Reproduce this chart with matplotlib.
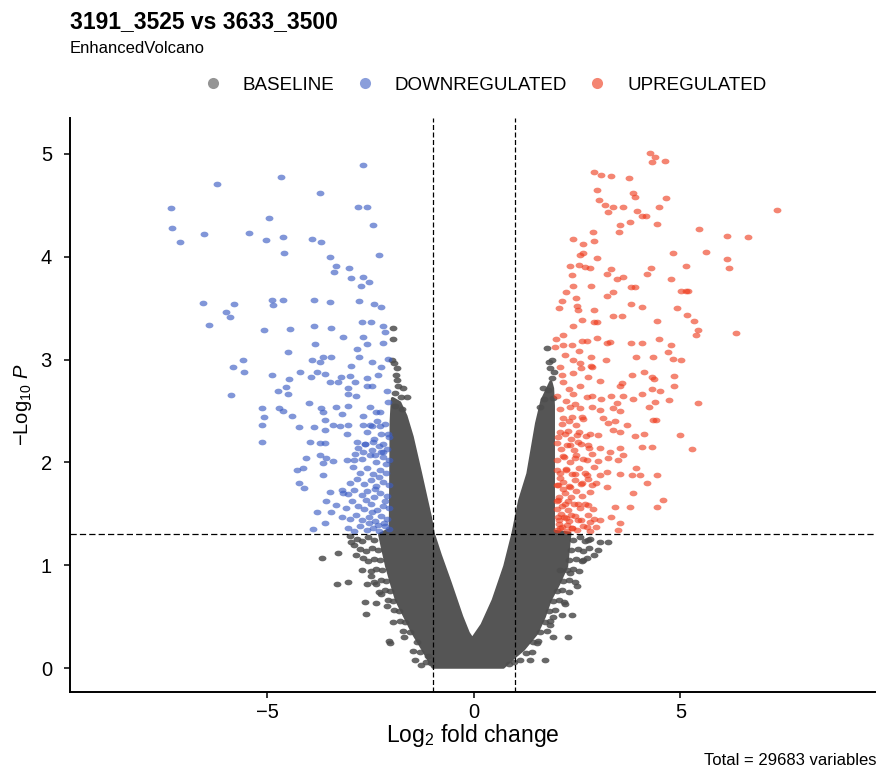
import numpy as np
import matplotlib
matplotlib.use("Agg")
import matplotlib.pyplot as plt
from matplotlib.path import Path
from matplotlib.lines import Line2D

plt.rcParams['font.family'] = ['Liberation Sans', 'DejaVu Sans']
plt.rcParams['mathtext.fontset'] = 'custom'
plt.rcParams['mathtext.rm'] = 'Liberation Sans'
plt.rcParams['mathtext.it'] = 'Liberation Sans:italic'

# ---------------- data ----------------
title = "3191_3525 vs 3633_3500"
subtitle = "EnhancedVolcano"
caption = "Total = 29683 variables"
categories = ["BASELINE", "DOWNREGULATED", "UPREGULATED"]
fc_cutoff = 1.0
p_cutoff = 1.3
x_ticks = [-5, 0, 5]
y_ticks = [0, 1, 2, 3, 4, 5]

# dense baseline cloud envelope (log2FC, -log10 P)
base_env_x = [-1.97, -2.0, -2.02, -2.28, -2.2, -2.11, -1.99, -1.87, -1.67, -1.47, -1.23, -0.99,
              0.71, 0.95, 1.19, 1.52, 1.70, 1.84, 2.05, 2.24, 2.32, 1.92, 1.92, 1.9, 1.86,
              1.65, 1.52, 1.31, 1.11, 1.03, 0.95, 0.75, 0.47, 0.2, -0.04, -0.14, -0.3, -0.58, -0.82,
              -0.99, -1.06, -1.15, -1.3, -1.5, -1.65, -1.8]
base_env_y = [2.62, 2.4, 1.35, 1.3, 1.15, 0.99, 0.82, 0.66, 0.5, 0.34, 0.18, 0.01,
              0.01, 0.1, 0.18, 0.34, 0.5, 0.66, 0.82, 0.99, 1.31, 1.33, 2.55, 2.72, 2.78,
              2.6, 2.38, 1.89, 1.63, 1.47, 1.31, 0.99, 0.66, 0.42, 0.28, 0.34, 0.5, 0.83, 1.1,
              1.31, 1.47, 1.63, 1.9, 2.25, 2.45, 2.58]

# scattered baseline points
base_x = [-3.69, -3.28, -3.32, -3.04, -2.60, -2.37, -2.64, -2.36, -2.61, -2.05, -1.47, -1.31, -1.15, -3.0, -2.9,
          -2.85, -2.7, -2.5, -2.25, -2.1, -1.95, -1.7, -2.03, -1.43, -1.28,
          -2.42, -2.57, -2.71, -2.83, -2.98, -2.33, -2.47, -2.62, -2.77, -2.27, -2.41, -2.56, -2.69,
          -2.22, -2.36, -2.49, -2.12, -2.26, -2.41, -2.03, -2.16, -2.31, -1.96, -2.09, -1.82, -1.94,
          -1.66, -1.79, -1.56, -1.71, -1.39, -1.12, -1.05,
          2.81, 3.05, 3.25, 3.01, 2.08, 2.32, 2.65, 1.92, 2.12, 2.37, 1.92, 2.28, 1.52, 1.11, 1.36, 1.72, 2.9,
          2.5, 2.2, 1.85, 2.75,
          2.41, 2.56, 2.69, 2.36, 2.51, 2.64, 2.79, 2.31, 2.46, 2.61, 2.74, 2.26, 2.41, 2.54, 2.16, 2.31,
          2.44, 2.02, 2.14, 2.29, 1.91, 2.06, 2.19, 1.81, 1.96, 1.71, 1.84, 1.61, 1.76, 1.42, 1.56, 1.26,
          1.41, 0.86, 0.98,
          -1.96, -1.87, -1.89, -1.83, -1.71, -1.63, -1.77, -1.92, -1.75, -1.98, -1.9, -1.97, -1.86, -1.94,
          1.76, 1.84, 1.88, 1.68, 1.92, 1.60, 1.8, 1.9, 1.93, 1.7, 1.82]
base_y = [1.07, 1.12, 0.82, 0.84, 0.82, 0.82, 0.64, 0.63, 0.53, 0.26, 0.17, 0.16, 0.06, 1.28, 1.2,
          1.1, 0.95, 0.9, 0.72, 0.6, 0.45, 0.3, 0.24, 0.08, 0.03,
          1.25, 1.27, 1.24, 1.26, 1.23, 1.15, 1.17, 1.14, 1.16, 1.05, 1.06, 1.04, 1.07,
          0.95, 0.96, 0.94, 0.85, 0.86, 0.84, 0.75, 0.76, 0.74, 0.65, 0.66, 0.55, 0.56,
          0.45, 0.46, 0.35, 0.36, 0.25, 0.12, 0.05,
          1.26, 1.23, 1.23, 1.15, 0.95, 0.92, 1.05, 0.5, 0.52, 0.52, 0.30, 0.30, 0.24, 0.08, 0.08, 0.08, 1.1,
          0.8, 0.62, 0.42, 1.25,
          1.25, 1.27, 1.24, 1.15, 1.16, 1.14, 1.17, 1.05, 1.06, 1.04, 1.07, 0.95, 0.96, 0.94, 0.85, 0.86,
          0.84, 0.75, 0.76, 0.74, 0.65, 0.66, 0.64, 0.55, 0.56, 0.45, 0.46, 0.35, 0.36, 0.25, 0.26, 0.15,
          0.16, 0.04, 0.06,
          3.31, 2.92, 2.85, 2.74, 2.72, 2.64, 2.64, 2.55, 2.52, 3.0, 2.68, 3.2, 2.8, 2.97,
          3.11, 2.92, 2.82, 2.72, 2.63, 2.54, 2.7, 3.0, 2.88, 2.62, 2.98]

down_x = [-2.69, -4.67, -6.21, -3.73, -7.34, -2.80, -2.60, -4.96, -2.44, -7.30, -6.54, -5.44, -7.12, -5.04, -4.62,
          -3.91, -3.70, -4.60, -3.49, -2.31, -3.35, -3.02, -3.38, -2.97, -2.68, -2.54, -2.74, -6.55, -5.80, -6.00,
          -5.91, -6.41, -4.89, -4.63, -4.86, -3.87, -3.49, -2.79, -2.42, -2.26, -5.08, -4.45, -3.87, -3.46, -2.71,
          -2.49, -2.20, -2.15, -3.16, -2.68, -2.84, -2.78, -2.60, -2.20, -3.86, -4.50, -5.59, -5.83, -5.57, -5.87,
          -3.91, -3.73, -3.65, -3.45, -2.98, -2.48, -2.26, -2.09, -4.89, -4.47, -4.21, -3.95, -3.81, -3.61, -3.49,
          -3.29, -3.22, -3.00, -2.88, -2.58, -2.33, -2.58, -2.48, -3.06, -3.04, -2.86, -4.55, -4.50, -4.75, -2.10,
          -2.07, -5.14, -5.08, -5.12, -5.14, -4.71, -4.62, -4.41, -3.99, -3.70, -3.65, -3.34, -3.20, -3.06, -4.23,
          -3.87, -3.61, -3.41, -3.61, -3.25, -3.08, -3.04, -2.68, -2.48, -2.28, -2.52, -2.36, -2.28, -2.68, -3.97,
          -3.73, -3.61, -2.84, -2.64, -2.44, -2.20, -2.07, -3.73, -3.65, -3.57, -4.07, -4.29, -4.13, -3.42, -3.08,
          -2.91, -2.68, -2.40, -2.20, -3.65, -4.23, -4.12, -3.49, -3.20, -3.16, -3.57, -3.35, -3.81, -3.45, -3.61,
          -3.89,
          -2.05, -2.15, -2.3, -2.45, -2.6, -2.75, -2.9, -3.05, -2.1, -2.25, -2.4, -2.55, -2.7, -2.85, -3.0, -3.2,
          -2.05, -2.2, -2.35, -2.5, -2.65, -2.8, -2.95, -3.1, -2.1, -2.28, -2.42, -2.58, -2.72, -2.9, -3.05,
          -2.05, -2.2, -2.36, -2.5, -2.66, -2.82, -3.0, -2.12, -2.27, -2.44, -2.6, -2.75, -2.92,
          -2.05, -2.2, -2.38, -2.52, -2.7, -2.88, -2.1, -2.3, -2.46, -2.63, -2.8, -2.06, -2.25, -2.42, -2.58,
          -2.15, -2.35, -2.52, -2.18, -2.33, -2.48, -2.62, -2.15, -2.3, -2.12, -2.55, -2.4, -2.25]
down_y = [4.89, 4.78, 4.71, 4.62, 4.47, 4.48, 4.48, 4.38, 4.31, 4.28, 4.22, 4.23, 4.14, 4.16, 4.19,
          4.17, 4.14, 4.04, 4.00, 4.02, 3.91, 3.89, 3.85, 3.79, 3.80, 3.75, 3.72, 3.55, 3.54, 3.46,
          3.41, 3.34, 3.58, 3.58, 3.53, 3.58, 3.56, 3.57, 3.54, 3.51, 3.29, 3.30, 3.33, 3.31, 3.37,
          3.37, 3.33, 3.27, 3.22, 3.22, 3.10, 3.03, 3.15, 3.16, 3.15, 3.07, 3.00, 2.93, 2.88, 2.66,
          3.00, 2.98, 3.03, 3.03, 2.94, 2.98, 2.93, 3.01, 2.85, 2.81, 2.88, 2.83, 2.88, 2.86, 2.78,
          2.78, 2.83, 2.84, 2.78, 2.82, 2.85, 2.74, 2.74, 2.72, 2.67, 2.65, 2.73, 2.67, 2.69, 2.69,
          2.59, 2.53, 2.44, 2.36, 2.20, 2.53, 2.50, 2.45, 2.58, 2.53, 2.49, 2.54, 2.47, 2.55, 2.34,
          2.34, 2.41, 2.36, 2.32, 2.35, 2.28, 2.36, 2.36, 2.35, 2.35, 2.54, 2.49, 2.49, 2.45, 2.20,
          2.19, 2.19, 2.20, 2.18, 2.20, 2.18, 2.28, 2.07, 1.99, 2.04, 2.04, 1.93, 1.95, 2.01, 2.02,
          2.02, 2.10, 2.07, 2.10, 1.88, 1.80, 1.75, 1.71, 1.73, 1.70, 1.62, 1.59, 1.52, 1.52, 1.41,
          1.35,
          1.35, 1.38, 1.33, 1.36, 1.34, 1.38, 1.33, 1.36, 1.45, 1.48, 1.43, 1.47, 1.44, 1.49, 1.45, 1.47,
          1.56, 1.58, 1.54, 1.6, 1.55, 1.58, 1.62, 1.56, 1.67, 1.7, 1.66, 1.72, 1.68, 1.73, 1.69,
          1.78, 1.81, 1.77, 1.83, 1.79, 1.84, 1.8, 1.9, 1.93, 1.89, 1.95, 1.9, 1.96,
          2.02, 2.05, 2.0, 2.07, 2.03, 2.08, 2.13, 2.16, 2.12, 2.18, 2.14, 2.25, 2.28, 2.23, 2.3,
          2.37, 2.4, 2.36, 1.41, 1.39, 1.52, 1.63, 1.62, 1.86, 1.98, 1.41, 1.74, 2.1]

up_x = [4.26, 4.38, 4.30, 4.62, 2.91, 3.08, 3.33, 3.75, 2.97, 3.03, 3.86, 3.90, 4.65, 3.17, 3.37, 3.62, 3.25,
        3.94, 4.06, 4.16, 4.48, 7.33, 3.79, 3.54, 3.52, 4.42, 2.89, 2.91, 2.65, 2.40, 5.46, 6.12, 6.63, 4.81,
        5.61, 6.12, 6.17, 2.65, 2.57, 2.99, 2.32, 2.55, 2.69, 2.81, 3.31, 3.23, 3.47, 3.62, 4.29, 4.18, 5.13,
        4.77, 2.38, 2.40, 2.83, 3.80, 3.90, 3.36, 3.23, 5.01, 5.13, 5.19, 2.24, 2.14, 2.47, 2.49, 2.53, 2.07,
        2.91, 2.91, 2.97, 3.36, 3.58, 3.80, 4.06, 4.92, 5.15, 5.33, 5.42, 5.37, 4.44, 6.35, 2.61, 2.39, 2.16,
        1.98, 1.96, 2.15, 2.37, 2.62, 2.73, 2.97, 3.23, 3.29, 3.80, 4.06, 4.49, 4.77, 3.92, 4.34, 4.70, 4.83,
        5.01, 3.20, 2.83, 2.55, 2.20, 2.40, 2.57, 2.83, 2.08, 2.58, 2.87, 2.12, 2.40, 2.77, 3.05, 3.54, 3.58,
        3.83, 4.12, 4.30, 4.37, 4.85, 4.85, 2.16, 2.31, 2.40, 2.57, 2.02, 2.24, 2.45, 2.73, 2.85, 3.07, 3.31,
        3.47, 3.60, 3.86, 4.06, 4.30, 4.38, 4.50, 4.73, 5.42, 4.24, 3.37, 3.54, 3.05, 2.85, 2.57, 2.32, 2.08,
        2.16, 2.37, 2.61, 3.13, 3.25, 3.41, 3.70, 4.34, 4.41, 2.08, 2.28, 2.49, 2.81, 3.01, 3.37, 3.54, 3.90,
        4.12, 4.99, 2.00, 2.32, 2.53, 2.77, 3.05, 3.29, 3.54, 4.06, 4.30, 5.27, 2.16, 2.45, 2.73, 3.01, 3.25,
        3.49, 3.62, 3.92, 2.00, 2.24, 2.45, 2.73, 3.05, 3.21, 3.54, 3.82, 4.02, 4.42, 2.04, 2.32, 2.61, 2.85,
        3.21, 4.18, 3.86, 4.58, 2.04, 2.28, 2.53, 2.77, 3.41, 3.78, 4.42, 2.04, 2.24, 2.53, 2.81, 3.05, 3.33,
        3.54, 2.08, 2.37, 2.73, 3.49,
        2.0, 2.12, 2.25, 2.38, 2.5, 2.65, 2.8, 2.95, 2.05, 2.18, 2.3, 2.45, 2.6, 2.75, 2.9,
        2.0, 2.14, 2.28, 2.42, 2.56, 2.7, 2.88, 2.06, 2.2, 2.34, 2.48, 2.62, 2.8,
        2.0, 2.15, 2.3, 2.44, 2.6, 2.76, 2.95, 2.08, 2.22, 2.38, 2.54, 2.7, 2.9,
        2.02, 2.17, 2.32, 2.48, 2.65, 2.85, 2.1, 2.26, 2.42, 2.6, 2.78,
        2.03, 2.2, 2.36, 2.55, 2.72, 2.12, 2.3, 2.48, 2.65,
        2.05, 2.1, 2.02, 2.15, 2.08, 2.25, 2.35, 2.2]
up_y = [5.01, 4.97, 4.92, 4.93, 4.82, 4.80, 4.79, 4.77, 4.65, 4.55, 4.62, 4.58, 4.57, 4.50, 4.48, 4.48, 4.44,
        4.45, 4.40, 4.40, 4.48, 4.46, 4.34, 4.31, 4.24, 4.32, 4.24, 4.15, 4.12, 4.17, 4.27, 4.20, 4.19, 4.04,
        4.05, 3.98, 3.89, 4.04, 4.02, 3.99, 3.91, 3.92, 3.90, 3.89, 3.88, 3.83, 3.78, 3.80, 3.89, 3.83, 3.91,
        3.78, 3.82, 3.72, 3.72, 3.71, 3.71, 3.66, 3.62, 3.67, 3.67, 3.67, 3.66, 3.57, 3.60, 3.52, 3.48, 3.50,
        3.48, 3.37, 3.37, 3.42, 3.42, 3.54, 3.51, 3.50, 3.43, 3.38, 3.29, 3.24, 3.38, 3.26, 3.39, 3.33, 3.24,
        3.20, 3.12, 3.14, 3.14, 3.18, 3.18, 3.21, 3.16, 3.17, 3.16, 3.16, 3.20, 3.14, 3.03, 3.03, 3.07, 3.01,
        3.00, 3.00, 3.03, 3.08, 3.04, 3.00, 2.97, 2.94, 2.93, 2.92, 2.93, 2.85, 2.87, 2.83, 2.79, 2.74, 2.77,
        2.85, 2.88, 2.83, 2.81, 2.84, 2.74, 2.78, 2.71, 2.67, 2.74, 2.65, 2.60, 2.57, 2.64, 2.65, 2.62, 2.65,
        2.58, 2.65, 2.62, 2.67, 2.71, 2.59, 2.69, 2.61, 2.58, 2.54, 2.53, 2.50, 2.51, 2.54, 2.53, 2.54, 2.52,
        2.43, 2.44, 2.44, 2.43, 2.38, 2.40, 2.36, 2.41, 2.41, 2.30, 2.31, 2.27, 2.28, 2.27, 2.32, 2.30, 2.26,
        2.28, 2.27, 2.19, 2.17, 2.20, 2.17, 2.14, 2.10, 2.14, 2.15, 2.15, 2.13, 2.06, 2.04, 2.02, 2.01, 2.04,
        2.02, 2.07, 1.95, 1.93, 1.94, 1.89, 1.88, 1.88, 1.91, 1.89, 1.88, 1.88, 1.88, 1.78, 1.76, 1.80, 1.78,
        1.76, 1.80, 1.70, 1.63, 1.63, 1.62, 1.60, 1.59, 1.57, 1.57, 1.57, 1.47, 1.46, 1.44, 1.42, 1.44, 1.47,
        1.41, 1.36, 1.36, 1.37, 1.34,
        1.34, 1.37, 1.33, 1.36, 1.34, 1.38, 1.33, 1.37, 1.44, 1.47, 1.43, 1.48, 1.44, 1.49, 1.45,
        1.55, 1.58, 1.54, 1.6, 1.56, 1.6, 1.55, 1.66, 1.7, 1.66, 1.72, 1.67, 1.71,
        1.78, 1.81, 1.77, 1.83, 1.79, 1.84, 1.8, 1.9, 1.93, 1.89, 1.95, 1.9, 1.96,
        2.02, 2.05, 2.0, 2.07, 2.03, 2.08, 2.13, 2.17, 2.12, 2.18, 2.14,
        2.25, 2.28, 2.23, 2.3, 2.26, 2.37, 2.4, 2.36, 2.42,
        1.4, 1.5, 1.62, 1.74, 1.85, 1.39, 1.49, 1.6]

# ---------------- style ----------------
col_base = '#4D4D4D'
col_down = '#3D5EC4'
col_up = '#EE3A1C'

theta = np.linspace(0, 2 * np.pi, 41)
ell = Path(np.column_stack([np.cos(theta), 0.72 * np.sin(theta)]), closed=True)

fig = plt.figure(figsize=(8.86, 7.81), dpi=100)
ax = fig.add_axes([70 / 886, 1 - 692 / 781, 805 / 886, 574 / 781])

ax.fill(base_env_x, base_env_y, facecolor='#555555', edgecolor='#555555', lw=2.5,
        joinstyle='round', zorder=1)
ax.scatter(base_x, base_y, s=32, marker=ell, color=col_base, alpha=0.85, lw=0, zorder=2)
ax.scatter(down_x, down_y, s=32, marker=ell, color=col_down, alpha=0.65, lw=0, zorder=3)
ax.scatter(up_x, up_y, s=32, marker=ell, color=col_up, alpha=0.62, lw=0, zorder=3)

ax.axvline(-fc_cutoff, color='black', ls=(0, (4, 2)), lw=0.9, zorder=5)
ax.axvline(fc_cutoff, color='black', ls=(0, (4, 2)), lw=0.9, zorder=5)
ax.axhline(p_cutoff, color='black', ls=(0, (5, 2.5)), lw=0.9, zorder=5)

ax.set_xlim(-9.78, 9.71)
ax.set_ylim(-0.233, 5.35)
ax.set_xticks(x_ticks)
ax.set_xticklabels(['\u22125', '0', '5'])
ax.set_yticks(y_ticks)
for s in ['top', 'right']:
    ax.spines[s].set_visible(False)
for s in ['left', 'bottom']:
    ax.spines[s].set_linewidth(1.4)
ax.tick_params(axis='both', direction='out', length=4, width=1.1, labelsize=14.5, colors='black')
ax.tick_params(axis='y', pad=9)
ax.tick_params(axis='x', pad=4)

ax.set_xlabel(r'$\mathrm{Log}_{2}$ fold change', fontsize=16.5, labelpad=0)
ax.set_ylabel(r'$-\mathrm{Log}_{10}\ \mathit{P}$', fontsize=14.5, labelpad=5)

fig.text(70 / 886, 1 - 28 / 781, title, fontsize=16.5, fontweight='bold', ha='left', va='baseline')
fig.text(70 / 886, 1 - 53 / 781, subtitle, fontsize=12, ha='left', va='baseline')
fig.text(876 / 886, 1 - 765 / 781, caption, fontsize=12, ha='right', va='baseline')

handles = [Line2D([], [], ls='none', marker='o', ms=8, color=c, alpha=a, mew=0)
           for c, a in [(col_base, 0.6), (col_down, 0.6), (col_up, 0.62)]]
fig.legend(handles, categories, loc='center', bbox_to_anchor=(485 / 886, 1 - 85 / 781), ncol=3,
           frameon=False, fontsize=13.5, handletextpad=1.1, columnspacing=1.1, handlelength=1.0)

fig.savefig('out.png', dpi=100)
